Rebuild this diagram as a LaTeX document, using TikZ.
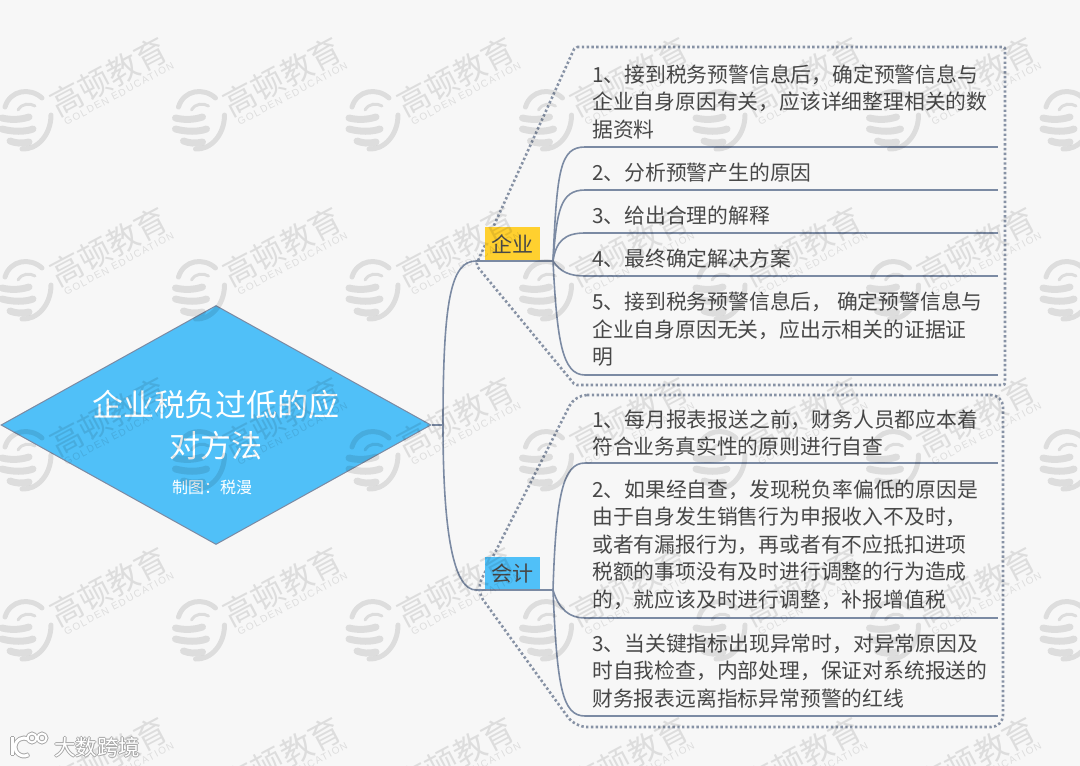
\documentclass[tikz,border=0pt]{standalone}
\usepackage{fontspec}
\usepackage{xcolor}
\setmainfont{Noto Sans CJK SC}
\newfontfamily\latinmark[LetterSpace=14]{Liberation Sans}
\usetikzlibrary{arrows.meta,positioning,calc,shapes.geometric}
\definecolor{pagegray}{RGB}{247,247,247}
\definecolor{mapblue}{RGB}{80,192,248}
\definecolor{mapyellow}{RGB}{255,208,47}
\definecolor{mapline}{RGB}{123,138,163}
\definecolor{mapdots}{RGB}{135,146,165}
\definecolor{maptext}{RGB}{72,72,72}
\begin{document}
\begin{tikzpicture}[
 x=1pt,y=-1pt,
 rootnode/.style={diamond,draw=mapline,fill=mapblue,line width=1pt,inner sep=0pt,minimum width=430pt,minimum height=239pt},
 tagbox/.style={inner sep=0pt,minimum width=55pt,minimum height=34pt,text=maptext,font=\fontsize{21}{21}\selectfont},
 leaf/.style={anchor=west,align=left,inner sep=0pt,text=maptext,font=\fontsize{20.8}{27.5}\selectfont},
 conn/.style={draw=mapline,line width=1.6pt},
 frameline/.style={draw=mapdots,line width=2.6pt,dash pattern=on 2.4pt off 2.4pt},
 wmline/.style={line width=5pt,line cap=round}
]
\useasboundingbox (0,0) rectangle (1080,766);
\fill[pagegray] (0,0) rectangle (1080,766);

\draw[frameline,rounded corners=2pt] (575,47) -- (1005,47) -- (1005,385) -- (575,385) -- (476,265) -- cycle;
\draw[frameline,rounded corners=12pt] (575,395) -- (1003,395) -- (1003,727) -- (575,727) -- (476,590) -- cycle;

\node[rootnode] (root) at (216,425) {};
\node[align=center,inner sep=0pt,text=white,font=\fontsize{31}{41}\selectfont] (title) at (216,425) {企业税负过低的应\\对方法};
\node[inner sep=0pt,text=white,font=\fontsize{16}{16}\selectfont] (maker) at (212,487) {制图：税漫};

\coordinate (hub) at (443,425);
\coordinate (qstart) at (476,261);
\coordinate (qhub) at (553,261);
\coordinate (kstart) at (476,590);
\coordinate (khub) at (553,590);
\node[tagbox,fill=mapyellow] (qiye) at (512.5,244) {企业};
\node[tagbox,fill=mapblue] (kuaiji) at (512.5,573.5) {会计};

\draw[conn] (root.east) -- (hub);
\draw[conn] (hub) .. controls +(0,-125) and +(-25,0) .. (qstart);
\draw[conn] (hub) .. controls +(0,110) and +(-22,0) .. (kstart);
\draw[conn] (qstart) -- (qhub);
\draw[conn] (kstart) -- (khub);

\foreach \n/\y in {q1/147,q2/190,q3/233,q4/276,q5/375,k1/463,k2/618,k3/716}{
  \coordinate (\n) at (585,\y);
  \coordinate (\n e) at (998,\y);
  \draw[conn] (\n) -- (\n e);
}
\draw[conn] (qhub) .. controls +(4,-91) and +(-25,0) .. (q1);
\draw[conn] (qhub) .. controls +(4,-50) and +(-25,0) .. (q2);
\draw[conn] (qhub) .. controls +(3,-20) and +(-20,0) .. (q3);
\draw[conn] (qhub) .. controls +(7,11) and +(-15,0) .. (q4);
\draw[conn] (qhub) .. controls +(4,79) and +(-23,0) .. (q5);
\draw[conn] (khub) .. controls +(3,-95) and +(-22,0) .. (k1);
\draw[conn] (khub) .. controls +(6,20) and +(-15,0) .. (k2);
\draw[conn] (khub) .. controls +(4,96) and +(-23,0) .. (k3);

\node[leaf] (tq1) at (592,102) {1、接到税务预警信息后，确定预警信息与\\企业自身原因有关，应该详细整理相关的数\\据资料};
\node[leaf] (tq2) at (592,172.5) {2、分析预警产生的原因};
\node[leaf] (tq3) at (592,215.5) {3、给出合理的解释};
\node[leaf] (tq4) at (592,258.5) {4、最终确定解决方案};
\node[leaf] (tq5) at (592,329.5) {5、接到税务预警信息后， 确定预警信息与\\企业自身原因无关，应出示相关的证据证\\明};
\node[leaf] (tk1) at (592,433) {1、每月报表报送之前，财务人员都应本着\\符合业务真实性的原则进行自查};
\node[leaf] (tk2) at (592,544.5) {2、如果经自查，发现税负率偏低的原因是\\由于自身发生销售行为申报收入不及时，\\或者有漏报行为，再或者有不应抵扣进项\\税额的事项没有及时进行调整的行为造成\\的，就应该及时进行调整，补报增值税};
\node[leaf] (tk3) at (592,671) {3、当关键指标出现异常时，对异常原因及\\时自我检查，内部处理，保证对系统报送的\\财务报表远离指标异常预警的红线};

\begin{scope}
\clip (0,0) rectangle (1080,766);
\foreach \i in {0,...,6}{
  \foreach \j in {1,...,5}{
    \begin{scope}[shift={(25+173.5*\i,-50+170*\j)},opacity=.1]
      \draw[wmline] (-20,-13) .. controls (-15,-30) and (5,-33) .. (17,-22);
      \draw[wmline,line width=3pt] (-7,-10) .. controls (-3,-17) and (5,-17) .. (10,-14);
      \draw[wmline,line width=7pt] (-23,-2) .. controls (-15,0) and (-5,0) .. (4,-3);
      \draw[wmline,line width=7pt] (-23,9) .. controls (-12,12) and (0,12) .. (8,9);
      \draw[wmline,line width=7pt] (-15,21) .. controls (-10,23) and (-3,24) .. (4,22);
      \draw[wmline] (26,-5) .. controls (26,15) and (12,30) .. (-3,29);
      \node[rotate=28,inner sep=0pt,font=\fontsize{32}{32}\selectfont] (wm\i-\j) at (84,-43) {高顿教育};
      \node[rotate=28,inner sep=0pt,font=\latinmark\fontsize{10}{10}\selectfont] (wt\i-\j) at (94,-26) {GOLDEN EDUCATION};
    \end{scope}
  }
}
\end{scope}

\foreach \dx/\dy in {-1/0,1/0,0/-1,0/1}{
  \node[inner sep=0pt,text=black!35,font=\fontsize{21.5}{21.5}\selectfont] (stamp\dx\dy) at (97+\dx,747+\dy) {大数跨境};
  \draw[black!35,line width=3pt] (12+\dx,737+\dy) -- (12+\dx,755+\dy);
  \draw[black!35,line width=3pt] (28.5+\dx,754.8+\dy) arc (60:300:9);
  \draw[black!35,line width=2pt] (32+\dx,738+\dy) circle (4.5);
  \draw[black!35,line width=2pt] (42+\dx,738+\dy) circle (4.5);
}
\node[inner sep=0pt,text=white,font=\fontsize{21.5}{21.5}\selectfont] (stamp) at (97,747) {大数跨境};
\draw[white,line width=3pt] (12,737) -- (12,755);
\draw[white,line width=3pt] (28.5,754.8) arc (60:300:9);
\draw[white,line width=2pt] (32,738) circle (4.5);
\draw[white,line width=2pt] (42,738) circle (4.5);
\end{tikzpicture}
\end{document}
